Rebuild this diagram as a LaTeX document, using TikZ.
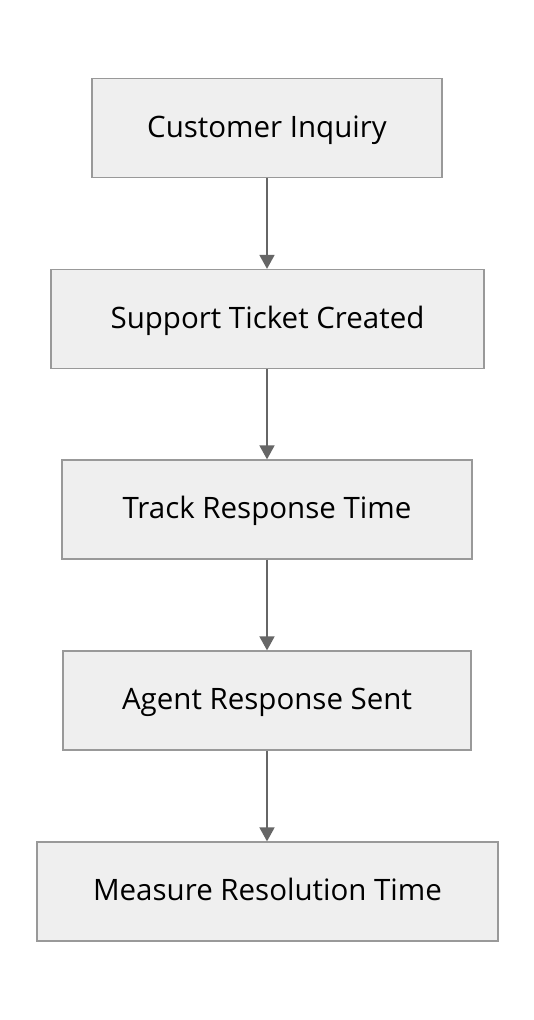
\documentclass[tikz,border=0pt]{standalone}
\usepackage{fontspec}
\setmainfont{Open Sans}
\usetikzlibrary{arrows.meta}
\definecolor{boxfill}{HTML}{EFEFEF}
\definecolor{boxline}{HTML}{999999}
\definecolor{arrowline}{HTML}{666666}
\begin{document}
\begin{tikzpicture}[x=1pt,y=-1pt,
  flowbox/.style={draw=boxline, fill=boxfill, line width=1.3pt, minimum height=99pt, inner sep=0pt, text height=21pt, text depth=3pt, font=\fontsize{29.5}{35}\selectfont},
  flowarrow/.style={draw=arrowline, line width=1.8pt, -{Triangle[length=14pt,width=15pt]}}]
\useasboundingbox (0,0) rectangle (534,1020);
\fill[white] (0,0) rectangle (534,1020);
\node[flowbox, minimum width=350pt] (a) at (267,128) {Customer Inquiry};
\node[flowbox, minimum width=433pt] (b) at (267.5,319) {Support Ticket Created};
\node[flowbox, minimum width=410pt] (c) at (267,509.5) {Track Response Time};
\node[flowbox, minimum width=408pt] (d) at (267,700.5) {Agent Response Sent};
\node[flowbox, minimum width=461pt] (e) at (267.5,891.5) {Measure Resolution Time};
\draw[flowarrow] (a.south -| 267,0) -- (b.north -| 267,0);
\draw[flowarrow] (b.south -| 267,0) -- (c.north -| 267,0);
\draw[flowarrow] (c.south -| 267,0) -- (d.north -| 267,0);
\draw[flowarrow] (d.south -| 267,0) -- (e.north -| 267,0);
\end{tikzpicture}
\end{document}
